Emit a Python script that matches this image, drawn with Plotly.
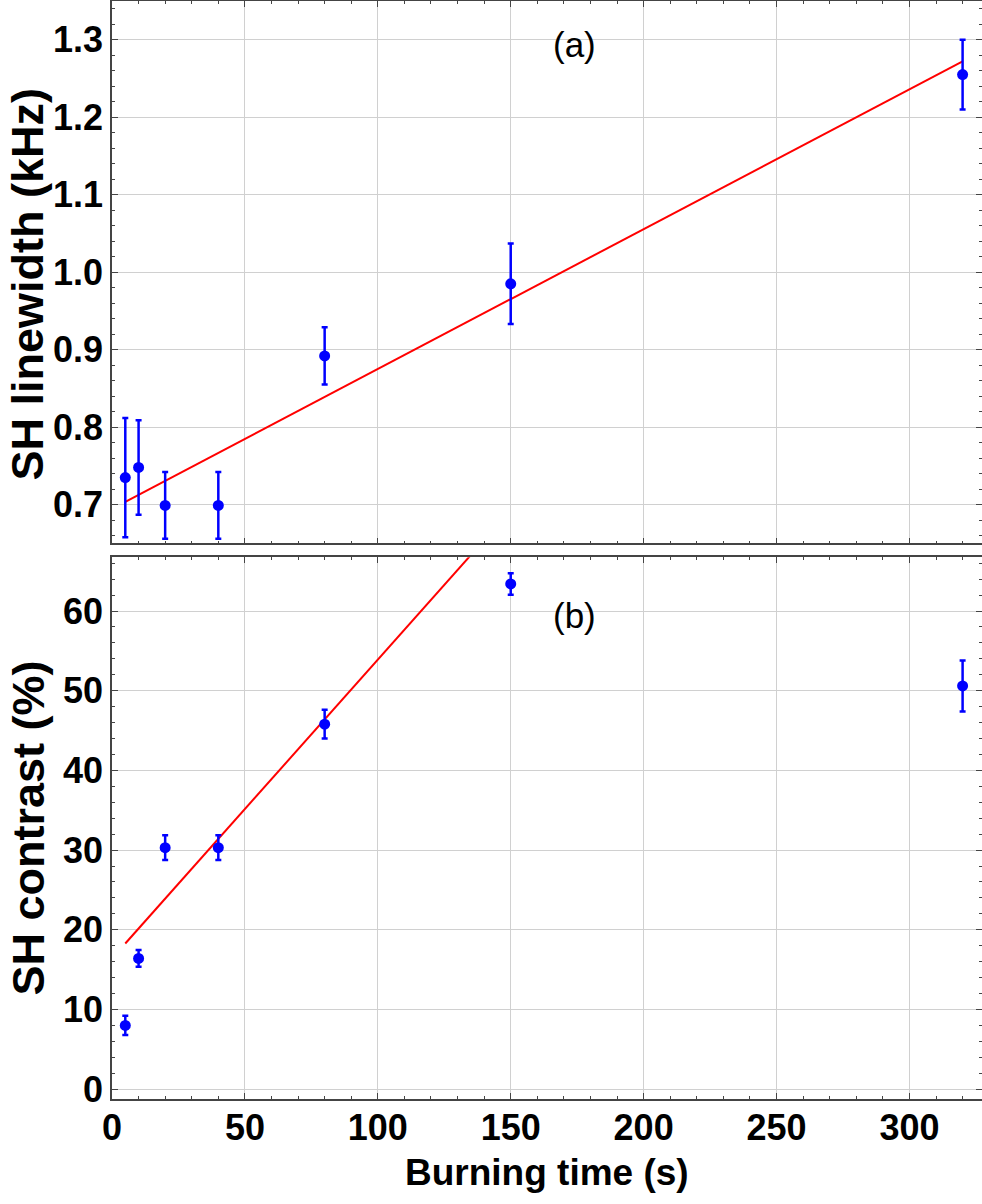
import plotly.graph_objects as go
from plotly.subplots import make_subplots

# ---- data ----
burn_time = [5, 10, 20, 40, 80, 150, 320]
linewidth = [0.735, 0.748, 0.699, 0.699, 0.892, 0.985, 1.255]
linewidth_err = [0.077, 0.061, 0.043, 0.043, 0.037, 0.052, 0.045]
contrast = [8.0, 16.4, 30.3, 30.3, 45.8, 63.4, 50.6]
contrast_err = [1.2, 1.05, 1.55, 1.55, 1.8, 1.35, 3.2]

fit_a_intercept, fit_a_slope = 0.6947, 0.001804
fit_a_x = [5, 320]
fit_b_intercept, fit_b_slope = 16.4, 0.375
fit_b_x = [5, 145]

x_ticks = [0, 50, 100, 150, 200, 250, 300]
ya_ticks = [0.7, 0.8, 0.9, 1.0, 1.1, 1.2, 1.3]
yb_ticks = [0, 10, 20, 30, 40, 50, 60]

FONT = "Liberation Sans"
BLUE = "#0000ff"
RED = "#ff0000"
GRID = "#d0d0d0"
FRAME = "#444444"

fig = make_subplots(rows=2, cols=1, shared_xaxes=True, vertical_spacing=0.0127)

fig.add_trace(go.Scatter(
    x=fit_a_x, y=[fit_a_intercept + fit_a_slope * v for v in fit_a_x],
    mode="lines", line=dict(color=RED, width=2), showlegend=False), row=1, col=1)
fig.add_trace(go.Scatter(
    x=burn_time, y=linewidth, mode="markers",
    marker=dict(color=BLUE, size=11),
    error_y=dict(type="data", array=linewidth_err, color=BLUE, thickness=2.5, width=3),
    showlegend=False), row=1, col=1)

fig.add_trace(go.Scatter(
    x=fit_b_x, y=[fit_b_intercept + fit_b_slope * v for v in fit_b_x],
    mode="lines", line=dict(color=RED, width=2), showlegend=False), row=2, col=1)
fig.add_trace(go.Scatter(
    x=burn_time, y=contrast, mode="markers",
    marker=dict(color=BLUE, size=11),
    error_y=dict(type="data", array=contrast_err, color=BLUE, thickness=2.5, width=3),
    showlegend=False), row=2, col=1)

common_axis = dict(
    automargin=False,
    showline=True, linecolor=FRAME, linewidth=1.5, mirror="ticks",
    ticks="inside", ticklen=6, tickwidth=1.2, tickcolor=FRAME,
    showgrid=True, gridcolor=GRID, gridwidth=1, zeroline=False,
    tickfont=dict(family=FONT, size=36, color="black", weight="bold"),
)

fig.update_xaxes(common_axis)
fig.update_xaxes(range=[0, 327.3], tickvals=x_ticks, ticklabelstandoff=-4,
                 minor=dict(dtick=10, ticks="inside", ticklen=3, tickcolor=FRAME, showgrid=False))
fig.update_xaxes(showticklabels=False, row=1, col=1)

fig.update_yaxes(common_axis)
fig.update_yaxes(range=[0.65, 1.35], tickvals=ya_ticks, tickformat=".1f",
                 minor=dict(dtick=0.02, ticks="inside", ticklen=3, tickcolor=FRAME, showgrid=False),
                 row=1, col=1)
fig.update_yaxes(range=[-1.24, 66.75], tickvals=yb_ticks,
                 minor=dict(dtick=2, ticks="inside", ticklen=3, tickcolor=FRAME, showgrid=False),
                 row=2, col=1)

title_font = dict(family=FONT, size=45, color="black", weight="bold")
fig.add_annotation(x=-0.0971, y=0.7423, xref="paper", yref="paper", text="SH linewidth (kHz)",
                   textangle=-90, showarrow=False, xanchor="center", yanchor="middle", font=title_font)
fig.add_annotation(x=-0.0971, y=0.2468, xref="paper", yref="paper", text="SH contrast (%)",
                   textangle=-90, showarrow=False, xanchor="center", yanchor="middle", font=title_font)
fig.add_annotation(x=0.5, y=-0.0665, xref="paper", yref="paper", text="Burning time (s)",
                   showarrow=False, xanchor="center", yanchor="middle",
                   font=dict(family=FONT, size=37, color="black", weight="bold"))

fig.add_annotation(x=174, y=1.2945, xref="x", yref="y", text="(a)", showarrow=False,
                   font=dict(family=FONT, size=35, color="black"))
fig.add_annotation(x=174, y=59.5, xref="x2", yref="y2", text="(b)", showarrow=False,
                   font=dict(family=FONT, size=35, color="black"))

fig.update_layout(
    width=982, height=1204,
    margin=dict(l=112, r=0, t=1, b=105, autoexpand=False),
    plot_bgcolor="white", paper_bgcolor="white",
    yaxis=dict(domain=[0.506, 1.0]),
    yaxis2=dict(domain=[0.0, 0.4934]),
)

fig.write_html("out.html", config={"displayModeBar": False},
               post_script="document.body.style.margin='0px';")
